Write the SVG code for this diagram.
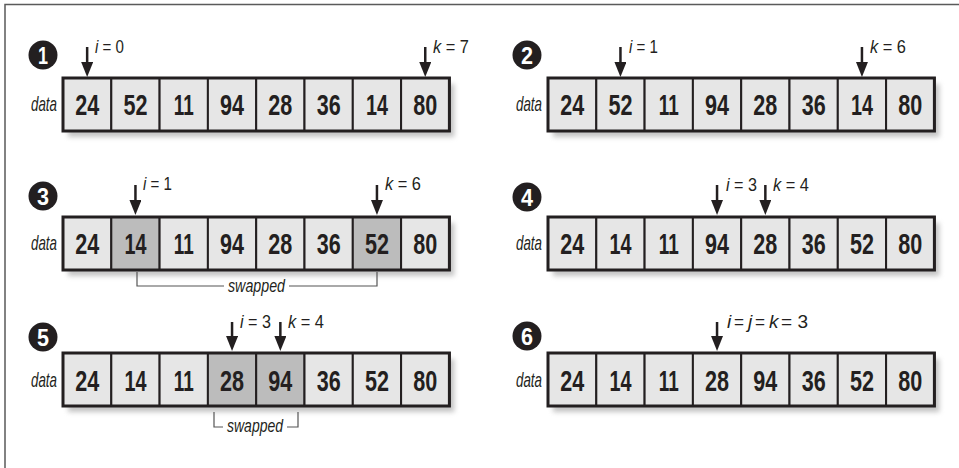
<svg xmlns="http://www.w3.org/2000/svg" width="959" height="468" viewBox="0 0 959 468">
<defs>
<style>
.frame{stroke:#5a5a5a;stroke-width:1.5;fill:none}
.cell{fill:#e6e6e6;stroke:#231f20;stroke-width:2}
.cell.sw{fill:#bcbcbc}
.outer{fill:none;stroke:#231f20;stroke-width:3}
.shadow{fill:#8a8a8a;opacity:.5;filter:url(#blur)}
.num{font-family:"Liberation Sans",Arial,sans-serif;font-weight:bold;font-size:29px;fill:#231f20;text-anchor:middle}
.data{font-family:"Liberation Sans",Arial,sans-serif;font-style:italic;font-size:21px;fill:#231f20;text-anchor:end}
.lbl{font-family:"Liberation Sans",Arial,sans-serif;font-size:19px;fill:#231f20}
.lbl .v,.lbl.v{font-style:italic}
.swt{font-family:"Liberation Sans",Arial,sans-serif;font-style:italic;font-size:19px;fill:#231f20}
.badge{fill:#231f20}
.bn{font-family:"Liberation Sans",Arial,sans-serif;font-weight:bold;font-size:24px;fill:#fff;text-anchor:middle}
.arrow{stroke:#231f20;stroke-width:2.5;fill:none;marker-end:url(#ah)}
.bracket{stroke:#555;stroke-width:1.2;fill:none}
</style>
<filter id="blur" x="-10%" y="-30%" width="120%" height="160%"><feGaussianBlur stdDeviation="2.5"/></filter>
<marker id="ah" viewBox="0 0 15 12" refX="5" refY="6" markerWidth="15" markerHeight="12" markerUnits="userSpaceOnUse" orient="auto">
<path d="M0,0 L15,6 L0,12 Z" fill="#231f20"/>
</marker>
</defs>
<rect width="959" height="468" fill="#fff"/>
<path class="frame" d="M5,468 V4.5 H959"/>

<!-- Panel 1 -->
<g id="panel1">
<circle class="badge" cx="43" cy="55" r="14.5"/><text class="bn" x="43" y="64" textLength="10" lengthAdjust="spacingAndGlyphs">1</text>
<text class="data" x="57" y="111" textLength="26" lengthAdjust="spacingAndGlyphs">data</text>
<g transform="translate(63,78)">
<rect class="shadow" x="5" y="6" width="386.4" height="53"/>
<rect class="cell" x="0" y="0" width="48.3" height="53"/><rect class="cell" x="48.3" y="0" width="48.3" height="53"/><rect class="cell" x="96.6" y="0" width="48.3" height="53"/><rect class="cell" x="144.9" y="0" width="48.3" height="53"/><rect class="cell" x="193.2" y="0" width="48.3" height="53"/><rect class="cell" x="241.5" y="0" width="48.3" height="53"/><rect class="cell" x="289.8" y="0" width="48.3" height="53"/><rect class="cell" x="338.1" y="0" width="48.3" height="53"/>
<rect class="outer" x="0" y="0" width="386.4" height="53"/>
<text class="num" x="24.15" y="37" textLength="24" lengthAdjust="spacingAndGlyphs">24</text><text class="num" x="72.45" y="37" textLength="24" lengthAdjust="spacingAndGlyphs">52</text><text class="num" x="120.75" y="37" textLength="20" lengthAdjust="spacingAndGlyphs">11</text><text class="num" x="169.05" y="37" textLength="24" lengthAdjust="spacingAndGlyphs">94</text><text class="num" x="217.35" y="37" textLength="24" lengthAdjust="spacingAndGlyphs">28</text><text class="num" x="265.65" y="37" textLength="24" lengthAdjust="spacingAndGlyphs">36</text><text class="num" x="313.95" y="37" textLength="22" lengthAdjust="spacingAndGlyphs">14</text><text class="num" x="362.25" y="37" textLength="24" lengthAdjust="spacingAndGlyphs">80</text>
</g>
<text class="lbl" x="95" y="53" textLength="29" lengthAdjust="spacingAndGlyphs"><tspan class="v">i</tspan> = 0</text>
<text class="lbl" x="433" y="53" textLength="36" lengthAdjust="spacingAndGlyphs"><tspan class="v">k</tspan> = 7</text>
</g>

<!-- Panel 2 -->
<g id="panel2">
<circle class="badge" cx="527" cy="55" r="14.5"/><text class="bn" x="527" y="64" textLength="12" lengthAdjust="spacingAndGlyphs">2</text>
<text class="data" x="542" y="111" textLength="26" lengthAdjust="spacingAndGlyphs">data</text>
<g transform="translate(548,78)">
<rect class="shadow" x="5" y="6" width="386.4" height="53"/>
<rect class="cell" x="0" y="0" width="48.3" height="53"/><rect class="cell" x="48.3" y="0" width="48.3" height="53"/><rect class="cell" x="96.6" y="0" width="48.3" height="53"/><rect class="cell" x="144.9" y="0" width="48.3" height="53"/><rect class="cell" x="193.2" y="0" width="48.3" height="53"/><rect class="cell" x="241.5" y="0" width="48.3" height="53"/><rect class="cell" x="289.8" y="0" width="48.3" height="53"/><rect class="cell" x="338.1" y="0" width="48.3" height="53"/>
<rect class="outer" x="0" y="0" width="386.4" height="53"/>
<text class="num" x="24.15" y="37" textLength="24" lengthAdjust="spacingAndGlyphs">24</text><text class="num" x="72.45" y="37" textLength="24" lengthAdjust="spacingAndGlyphs">52</text><text class="num" x="120.75" y="37" textLength="20" lengthAdjust="spacingAndGlyphs">11</text><text class="num" x="169.05" y="37" textLength="24" lengthAdjust="spacingAndGlyphs">94</text><text class="num" x="217.35" y="37" textLength="24" lengthAdjust="spacingAndGlyphs">28</text><text class="num" x="265.65" y="37" textLength="24" lengthAdjust="spacingAndGlyphs">36</text><text class="num" x="313.95" y="37" textLength="22" lengthAdjust="spacingAndGlyphs">14</text><text class="num" x="362.25" y="37" textLength="24" lengthAdjust="spacingAndGlyphs">80</text>
</g>
<text class="lbl" x="629" y="53" textLength="29" lengthAdjust="spacingAndGlyphs"><tspan class="v">i</tspan> = 1</text>
<text class="lbl" x="870" y="53" textLength="36" lengthAdjust="spacingAndGlyphs"><tspan class="v">k</tspan> = 6</text>
</g>

<!-- Panel 3 -->
<g id="panel3">
<circle class="badge" cx="43" cy="196" r="14.5"/><text class="bn" x="43" y="205" textLength="12" lengthAdjust="spacingAndGlyphs">3</text>
<text class="data" x="57" y="250" textLength="26" lengthAdjust="spacingAndGlyphs">data</text>
<g transform="translate(63,217)">
<rect class="shadow" x="5" y="6" width="386.4" height="53"/>
<rect class="cell" x="0" y="0" width="48.3" height="53"/><rect class="cell sw" x="48.3" y="0" width="48.3" height="53"/><rect class="cell" x="96.6" y="0" width="48.3" height="53"/><rect class="cell" x="144.9" y="0" width="48.3" height="53"/><rect class="cell" x="193.2" y="0" width="48.3" height="53"/><rect class="cell" x="241.5" y="0" width="48.3" height="53"/><rect class="cell sw" x="289.8" y="0" width="48.3" height="53"/><rect class="cell" x="338.1" y="0" width="48.3" height="53"/>
<rect class="outer" x="0" y="0" width="386.4" height="53"/>
<text class="num" x="24.15" y="37" textLength="24" lengthAdjust="spacingAndGlyphs">24</text><text class="num" x="72.45" y="37" textLength="22" lengthAdjust="spacingAndGlyphs">14</text><text class="num" x="120.75" y="37" textLength="20" lengthAdjust="spacingAndGlyphs">11</text><text class="num" x="169.05" y="37" textLength="24" lengthAdjust="spacingAndGlyphs">94</text><text class="num" x="217.35" y="37" textLength="24" lengthAdjust="spacingAndGlyphs">28</text><text class="num" x="265.65" y="37" textLength="24" lengthAdjust="spacingAndGlyphs">36</text><text class="num" x="313.95" y="37" textLength="24" lengthAdjust="spacingAndGlyphs">52</text><text class="num" x="362.25" y="37" textLength="24" lengthAdjust="spacingAndGlyphs">80</text>
</g>
<text class="lbl" x="143" y="190" textLength="29" lengthAdjust="spacingAndGlyphs"><tspan class="v">i</tspan> = 1</text>
<text class="lbl" x="385" y="190" textLength="36" lengthAdjust="spacingAndGlyphs"><tspan class="v">k</tspan> = 6</text>
<text class="swt" x="228" y="292" textLength="57" lengthAdjust="spacingAndGlyphs">swapped</text>
</g>

<!-- Panel 4 -->
<g id="panel4">
<circle class="badge" cx="527" cy="197" r="14.5"/><text class="bn" x="527" y="206" textLength="12" lengthAdjust="spacingAndGlyphs">4</text>
<text class="data" x="542" y="250" textLength="26" lengthAdjust="spacingAndGlyphs">data</text>
<g transform="translate(548,217)">
<rect class="shadow" x="5" y="6" width="386.4" height="53"/>
<rect class="cell" x="0" y="0" width="48.3" height="53"/><rect class="cell" x="48.3" y="0" width="48.3" height="53"/><rect class="cell" x="96.6" y="0" width="48.3" height="53"/><rect class="cell" x="144.9" y="0" width="48.3" height="53"/><rect class="cell" x="193.2" y="0" width="48.3" height="53"/><rect class="cell" x="241.5" y="0" width="48.3" height="53"/><rect class="cell" x="289.8" y="0" width="48.3" height="53"/><rect class="cell" x="338.1" y="0" width="48.3" height="53"/>
<rect class="outer" x="0" y="0" width="386.4" height="53"/>
<text class="num" x="24.15" y="37" textLength="24" lengthAdjust="spacingAndGlyphs">24</text><text class="num" x="72.45" y="37" textLength="22" lengthAdjust="spacingAndGlyphs">14</text><text class="num" x="120.75" y="37" textLength="20" lengthAdjust="spacingAndGlyphs">11</text><text class="num" x="169.05" y="37" textLength="24" lengthAdjust="spacingAndGlyphs">94</text><text class="num" x="217.35" y="37" textLength="24" lengthAdjust="spacingAndGlyphs">28</text><text class="num" x="265.65" y="37" textLength="24" lengthAdjust="spacingAndGlyphs">36</text><text class="num" x="313.95" y="37" textLength="24" lengthAdjust="spacingAndGlyphs">52</text><text class="num" x="362.25" y="37" textLength="24" lengthAdjust="spacingAndGlyphs">80</text>
</g>
<text class="lbl" x="726" y="191" textLength="31" lengthAdjust="spacingAndGlyphs"><tspan class="v">i</tspan> = 3</text>
<text class="lbl" x="773" y="191" textLength="36" lengthAdjust="spacingAndGlyphs"><tspan class="v">k</tspan> = 4</text>
</g>

<!-- Panel 5 -->
<g id="panel5">
<circle class="badge" cx="43" cy="337" r="14.5"/><text class="bn" x="43" y="346" textLength="12" lengthAdjust="spacingAndGlyphs">5</text>
<text class="data" x="57" y="387" textLength="26" lengthAdjust="spacingAndGlyphs">data</text>
<g transform="translate(63,353)">
<rect class="shadow" x="5" y="6" width="386.4" height="53"/>
<rect class="cell" x="0" y="0" width="48.3" height="53"/><rect class="cell" x="48.3" y="0" width="48.3" height="53"/><rect class="cell" x="96.6" y="0" width="48.3" height="53"/><rect class="cell sw" x="144.9" y="0" width="48.3" height="53"/><rect class="cell sw" x="193.2" y="0" width="48.3" height="53"/><rect class="cell" x="241.5" y="0" width="48.3" height="53"/><rect class="cell" x="289.8" y="0" width="48.3" height="53"/><rect class="cell" x="338.1" y="0" width="48.3" height="53"/>
<rect class="outer" x="0" y="0" width="386.4" height="53"/>
<text class="num" x="24.15" y="38" textLength="24" lengthAdjust="spacingAndGlyphs">24</text><text class="num" x="72.45" y="38" textLength="22" lengthAdjust="spacingAndGlyphs">14</text><text class="num" x="120.75" y="38" textLength="20" lengthAdjust="spacingAndGlyphs">11</text><text class="num" x="169.05" y="38" textLength="24" lengthAdjust="spacingAndGlyphs">28</text><text class="num" x="217.35" y="38" textLength="24" lengthAdjust="spacingAndGlyphs">94</text><text class="num" x="265.65" y="38" textLength="24" lengthAdjust="spacingAndGlyphs">36</text><text class="num" x="313.95" y="38" textLength="24" lengthAdjust="spacingAndGlyphs">52</text><text class="num" x="362.25" y="38" textLength="24" lengthAdjust="spacingAndGlyphs">80</text>
</g>
<text class="lbl" x="240" y="328" textLength="31" lengthAdjust="spacingAndGlyphs"><tspan class="v">i</tspan> = 3</text>
<text class="lbl" x="288" y="328" textLength="36" lengthAdjust="spacingAndGlyphs"><tspan class="v">k</tspan> = 4</text>
<text class="swt" x="227" y="432" textLength="56" lengthAdjust="spacingAndGlyphs">swapped</text>
</g>

<!-- Panel 6 -->
<g id="panel6">
<circle class="badge" cx="527" cy="336" r="14.5"/><text class="bn" x="527" y="345" textLength="12" lengthAdjust="spacingAndGlyphs">6</text>
<text class="data" x="542" y="387" textLength="26" lengthAdjust="spacingAndGlyphs">data</text>
<g transform="translate(548,353)">
<rect class="shadow" x="5" y="6" width="386.4" height="53"/>
<rect class="cell" x="0" y="0" width="48.3" height="53"/><rect class="cell" x="48.3" y="0" width="48.3" height="53"/><rect class="cell" x="96.6" y="0" width="48.3" height="53"/><rect class="cell" x="144.9" y="0" width="48.3" height="53"/><rect class="cell" x="193.2" y="0" width="48.3" height="53"/><rect class="cell" x="241.5" y="0" width="48.3" height="53"/><rect class="cell" x="289.8" y="0" width="48.3" height="53"/><rect class="cell" x="338.1" y="0" width="48.3" height="53"/>
<rect class="outer" x="0" y="0" width="386.4" height="53"/>
<text class="num" x="24.15" y="38" textLength="24" lengthAdjust="spacingAndGlyphs">24</text><text class="num" x="72.45" y="38" textLength="22" lengthAdjust="spacingAndGlyphs">14</text><text class="num" x="120.75" y="38" textLength="20" lengthAdjust="spacingAndGlyphs">11</text><text class="num" x="169.05" y="38" textLength="24" lengthAdjust="spacingAndGlyphs">28</text><text class="num" x="217.35" y="38" textLength="24" lengthAdjust="spacingAndGlyphs">94</text><text class="num" x="265.65" y="38" textLength="24" lengthAdjust="spacingAndGlyphs">36</text><text class="num" x="313.95" y="38" textLength="24" lengthAdjust="spacingAndGlyphs">52</text><text class="num" x="362.25" y="38" textLength="24" lengthAdjust="spacingAndGlyphs">80</text>
</g>
<text class="lbl v" x="727" y="328">i</text>
<text class="lbl" x="734" y="328" textLength="10" lengthAdjust="spacingAndGlyphs">=</text>
<text class="lbl v" x="748" y="328">j</text>
<text class="lbl" x="755" y="328" textLength="10" lengthAdjust="spacingAndGlyphs">=</text>
<text class="lbl v" x="769" y="328">k</text>
<text class="lbl" x="781" y="328" textLength="27" lengthAdjust="spacingAndGlyphs">= 3</text>
</g>

<!-- Connectors -->
<g id="connectors">
<line class="arrow" x1="87.15" y1="47" x2="87.15" y2="67"/>
<line class="arrow" x1="425.25" y1="47" x2="425.25" y2="67"/>
<line class="arrow" x1="620.45" y1="47" x2="620.45" y2="67"/>
<line class="arrow" x1="861.95" y1="47" x2="861.95" y2="67"/>
<line class="arrow" x1="135.45" y1="185" x2="135.45" y2="205"/>
<line class="arrow" x1="376.95" y1="185" x2="376.95" y2="205"/>
<line class="arrow" x1="717.05" y1="185" x2="717.05" y2="205"/>
<line class="arrow" x1="765.35" y1="185" x2="765.35" y2="205"/>
<line class="arrow" x1="232.05" y1="322" x2="232.05" y2="341"/>
<line class="arrow" x1="280.35" y1="322" x2="280.35" y2="341"/>
<line class="arrow" x1="717.05" y1="322" x2="717.05" y2="341"/>
<path class="bracket" d="M137,272 V286 H224 M289,286 H377 V272"/>
<path class="bracket" d="M214,412 V427 H223 M287,427 H298 V412"/>
</g>
</svg>
